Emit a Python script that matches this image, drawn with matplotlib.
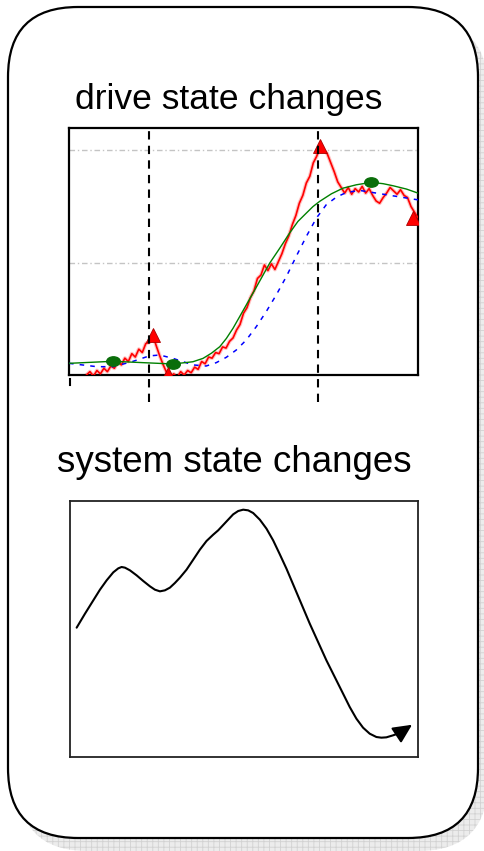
import matplotlib.pyplot as plt
from matplotlib.patches import FancyBboxPatch
from matplotlib.markers import MarkerStyle
from matplotlib.transforms import Affine2D

# --- drive state chart data (x: 0..100, y: 0..1.1) ---
green_x = [0, 12.6, 21.2, 29.8, 35.5, 38.4, 40.8, 43.2, 45.1, 47.0, 48.9, 50.8, 52.7, 55.1, 57.5, 60.4,
           63.2, 65.6, 68.0, 69.9, 71.8, 75.2, 78.5, 82.3, 86.6, 90.0, 92.8, 96.7, 100]
green_y = [0.052, 0.061, 0.055, 0.049, 0.059, 0.074, 0.097, 0.126, 0.163, 0.208, 0.260, 0.312, 0.364,
           0.431, 0.498, 0.565, 0.632, 0.684, 0.721, 0.750, 0.773, 0.807, 0.832, 0.847, 0.858, 0.852,
           0.843, 0.828, 0.810]
green_dots_x = [12.6, 29.8, 86.6]
green_dots_y = [0.061, 0.049, 0.858]

blue_x = [0, 8, 12.6, 18, 23, 26, 29.8, 35.5, 39.3, 42.2, 45.1, 47.9, 50.8, 53.7, 56.5, 59.4, 62.3,
          65.1, 68.0, 70.9, 73.7, 76.6, 79.5, 83.3, 88.1, 92.8, 100]
blue_y = [0.052, 0.037, 0.037, 0.059, 0.085, 0.089, 0.074, 0.045, 0.040, 0.055, 0.079, 0.111, 0.156,
          0.216, 0.282, 0.357, 0.439, 0.528, 0.617, 0.699, 0.758, 0.792, 0.813, 0.822, 0.810, 0.798, 0.780]

red_x = list(range(5, 101))
red_y = [0.00, 0.015, -0.005, 0.02, 0.005, 0.03, 0.015, 0.04, 0.03, 0.06, 0.045, 0.075, 0.06, 0.095,
         0.08, 0.115, 0.10, 0.14, 0.145, 0.178, 0.13, 0.085, 0.045, 0.01, -0.01, 0.005, -0.01, 0.015,
         0.0, 0.02, 0.01, 0.035, 0.025, 0.06, 0.05, 0.08, 0.075, 0.10, 0.095, 0.125, 0.12, 0.15, 0.165,
         0.20, 0.225, 0.275, 0.30, 0.345, 0.375, 0.43, 0.445, 0.49, 0.465, 0.495, 0.47, 0.505, 0.54,
         0.585, 0.62, 0.67, 0.71, 0.765, 0.80, 0.855, 0.885, 0.945, 0.975, 1.02, 1.00, 0.985, 0.945,
         0.905, 0.86, 0.835, 0.81, 0.835, 0.805, 0.83, 0.815, 0.84, 0.81, 0.83, 0.80, 0.775, 0.765,
         0.79, 0.81, 0.835, 0.82, 0.805, 0.825, 0.80, 0.79, 0.75, 0.725, 0.70]
red_peaks_x = [24, 28.5, 72, 98.5]
red_peaks_y = [0.178, 0.005, 1.02, 0.70]

events = [22.9, 71.3]
grid_levels = [0.5, 1.0]

# --- system state chart data (x, y: 0..100) ---
sys_x = [1.91, 4.31, 6.70, 8.61, 10.53, 12.44, 13.88, 14.83, 15.79, 17.22, 19.14, 21.05, 22.97, 24.40,
         25.84, 27.27, 28.71, 30.14, 31.58, 33.49, 35.41, 37.32, 39.23, 41.15, 42.58, 44.02, 45.45,
         46.89, 48.33, 49.76, 51.20, 52.63, 54.55, 56.46, 58.37, 60.29, 62.20, 64.11, 68.90, 73.68,
         78.47, 80.38, 82.30, 84.21, 86.12, 88.04, 89.47, 90.91, 92.82, 94.74]
sys_y = [50.52, 55.99, 61.20, 65.36, 69.01, 72.14, 73.70, 74.22, 73.96, 72.92, 70.96, 68.75, 66.67,
         65.36, 64.71, 65.10, 66.15, 67.97, 70.05, 73.18, 77.08, 80.99, 84.38, 86.85, 88.54, 90.63,
         92.71, 94.79, 96.09, 96.61, 96.35, 95.31, 92.71, 89.19, 84.64, 79.17, 73.57, 67.45, 52.08,
         37.76, 24.74, 19.53, 14.97, 11.46, 9.11, 7.81, 7.55, 7.68, 8.46, 9.38]
arrow_tip = (98.3, 12.6)

W, H = 485, 851
fig = plt.figure(figsize=(W / 100, H / 100), dpi=100, facecolor="white")

# background layer: shadow + rounded frame, in pixel coordinates
bg = fig.add_axes([0, 0, 1, 1])
bg.set_xlim(0, W)
bg.set_ylim(H, 0)
bg.axis("off")

plt.rcParams["hatch.linewidth"] = 0.6
shadow_base = FancyBboxPatch((8 + 70 + 10, 7 + 70 + 13), 470 - 140, 831 - 140,
                             boxstyle="round,pad=70", facecolor="#ececec", edgecolor="none", zorder=1)
shadow_grid = FancyBboxPatch((8 + 70 + 10, 7 + 70 + 13), 470 - 140, 831 - 140,
                             boxstyle="round,pad=70", facecolor="none", edgecolor="#d2d2d2",
                             hatch="+++", linewidth=0, zorder=2)
frame = FancyBboxPatch((8 + 70, 7 + 70), 470 - 140, 831 - 140,
                       boxstyle="round,pad=70", facecolor="white", edgecolor="black",
                       linewidth=1.6, zorder=3)
bg.add_patch(shadow_base)
bg.add_patch(shadow_grid)
bg.add_patch(frame)

fig.text(229 / W, 1 - 109 / H, "drive state changes", ha="center", va="baseline",
         fontsize=25.5, family="Liberation Sans")
fig.text(234 / W, 1 - 472 / H, "system state changes", ha="center", va="baseline",
         fontsize=26.5, family="Liberation Sans")

# --- drive state chart ---
ax = fig.add_axes([69 / W, 1 - 375 / H, 349 / W, 247 / H])
ax.set_facecolor("white")
ax.set_xlim(0, 100)
ax.set_ylim(0, 1.1)
ax.set_xticks([])
ax.set_yticks([])
for s in ax.spines.values():
    s.set_linewidth(1.6)
    s.set_color("black")

for g in grid_levels:
    ax.axhline(g, color="#c4c4c4", linewidth=1.0, linestyle=(0, (4, 2, 1, 2)), zorder=1)

ax.plot(red_x, red_y, color="#ff9c9c", linewidth=2.8, alpha=0.6, zorder=2)
ax.plot(red_x, red_y, color="red", linewidth=1.2, zorder=3)
ax.plot(blue_x, blue_y, color="blue", linewidth=1.1, linestyle=(0, (3, 4)), zorder=3)
ax.plot(green_x, green_y, color="green", linewidth=1.0, zorder=4)
oval = MarkerStyle("o", transform=Affine2D().scale(1.3, 0.9))
ax.plot(green_dots_x, green_dots_y, linestyle="none", marker=oval, color="#0a6e0a",
        markersize=7.5, zorder=5)
ax.plot(red_peaks_x, red_peaks_y, "^", color="red", markeredgecolor="#aa0000",
        markeredgewidth=0.6, markersize=10, zorder=6)

for e in events:
    ax.plot([e, e], [-0.12, 1.1], color="black", linewidth=1.5, linestyle=(0, (4, 3)),
            clip_on=False, zorder=7)

ax.plot([0.4, 0.4], [-0.02, -0.045], color="black", linewidth=1.5, clip_on=False)

# --- system state chart ---
ax2 = fig.add_axes([70 / W, 1 - 757 / H, 348 / W, 256 / H])
ax2.set_facecolor("white")
ax2.set_xlim(0, 100)
ax2.set_ylim(0, 100)
ax2.set_xticks([])
ax2.set_yticks([])
for s in ax2.spines.values():
    s.set_linewidth(1.3)
    s.set_color("#222222")

ax2.plot(sys_x, sys_y, color="black", linewidth=1.5, solid_capstyle="round", solid_joinstyle="round")
ax2.annotate("", xy=arrow_tip, xytext=(sys_x[-1], sys_y[-1]),
             arrowprops=dict(arrowstyle="-|>,head_length=1.15,head_width=0.55",
                             color="black", linewidth=1.5, shrinkA=0, shrinkB=0))

fig.savefig("out.png", dpi=100, facecolor="white")
